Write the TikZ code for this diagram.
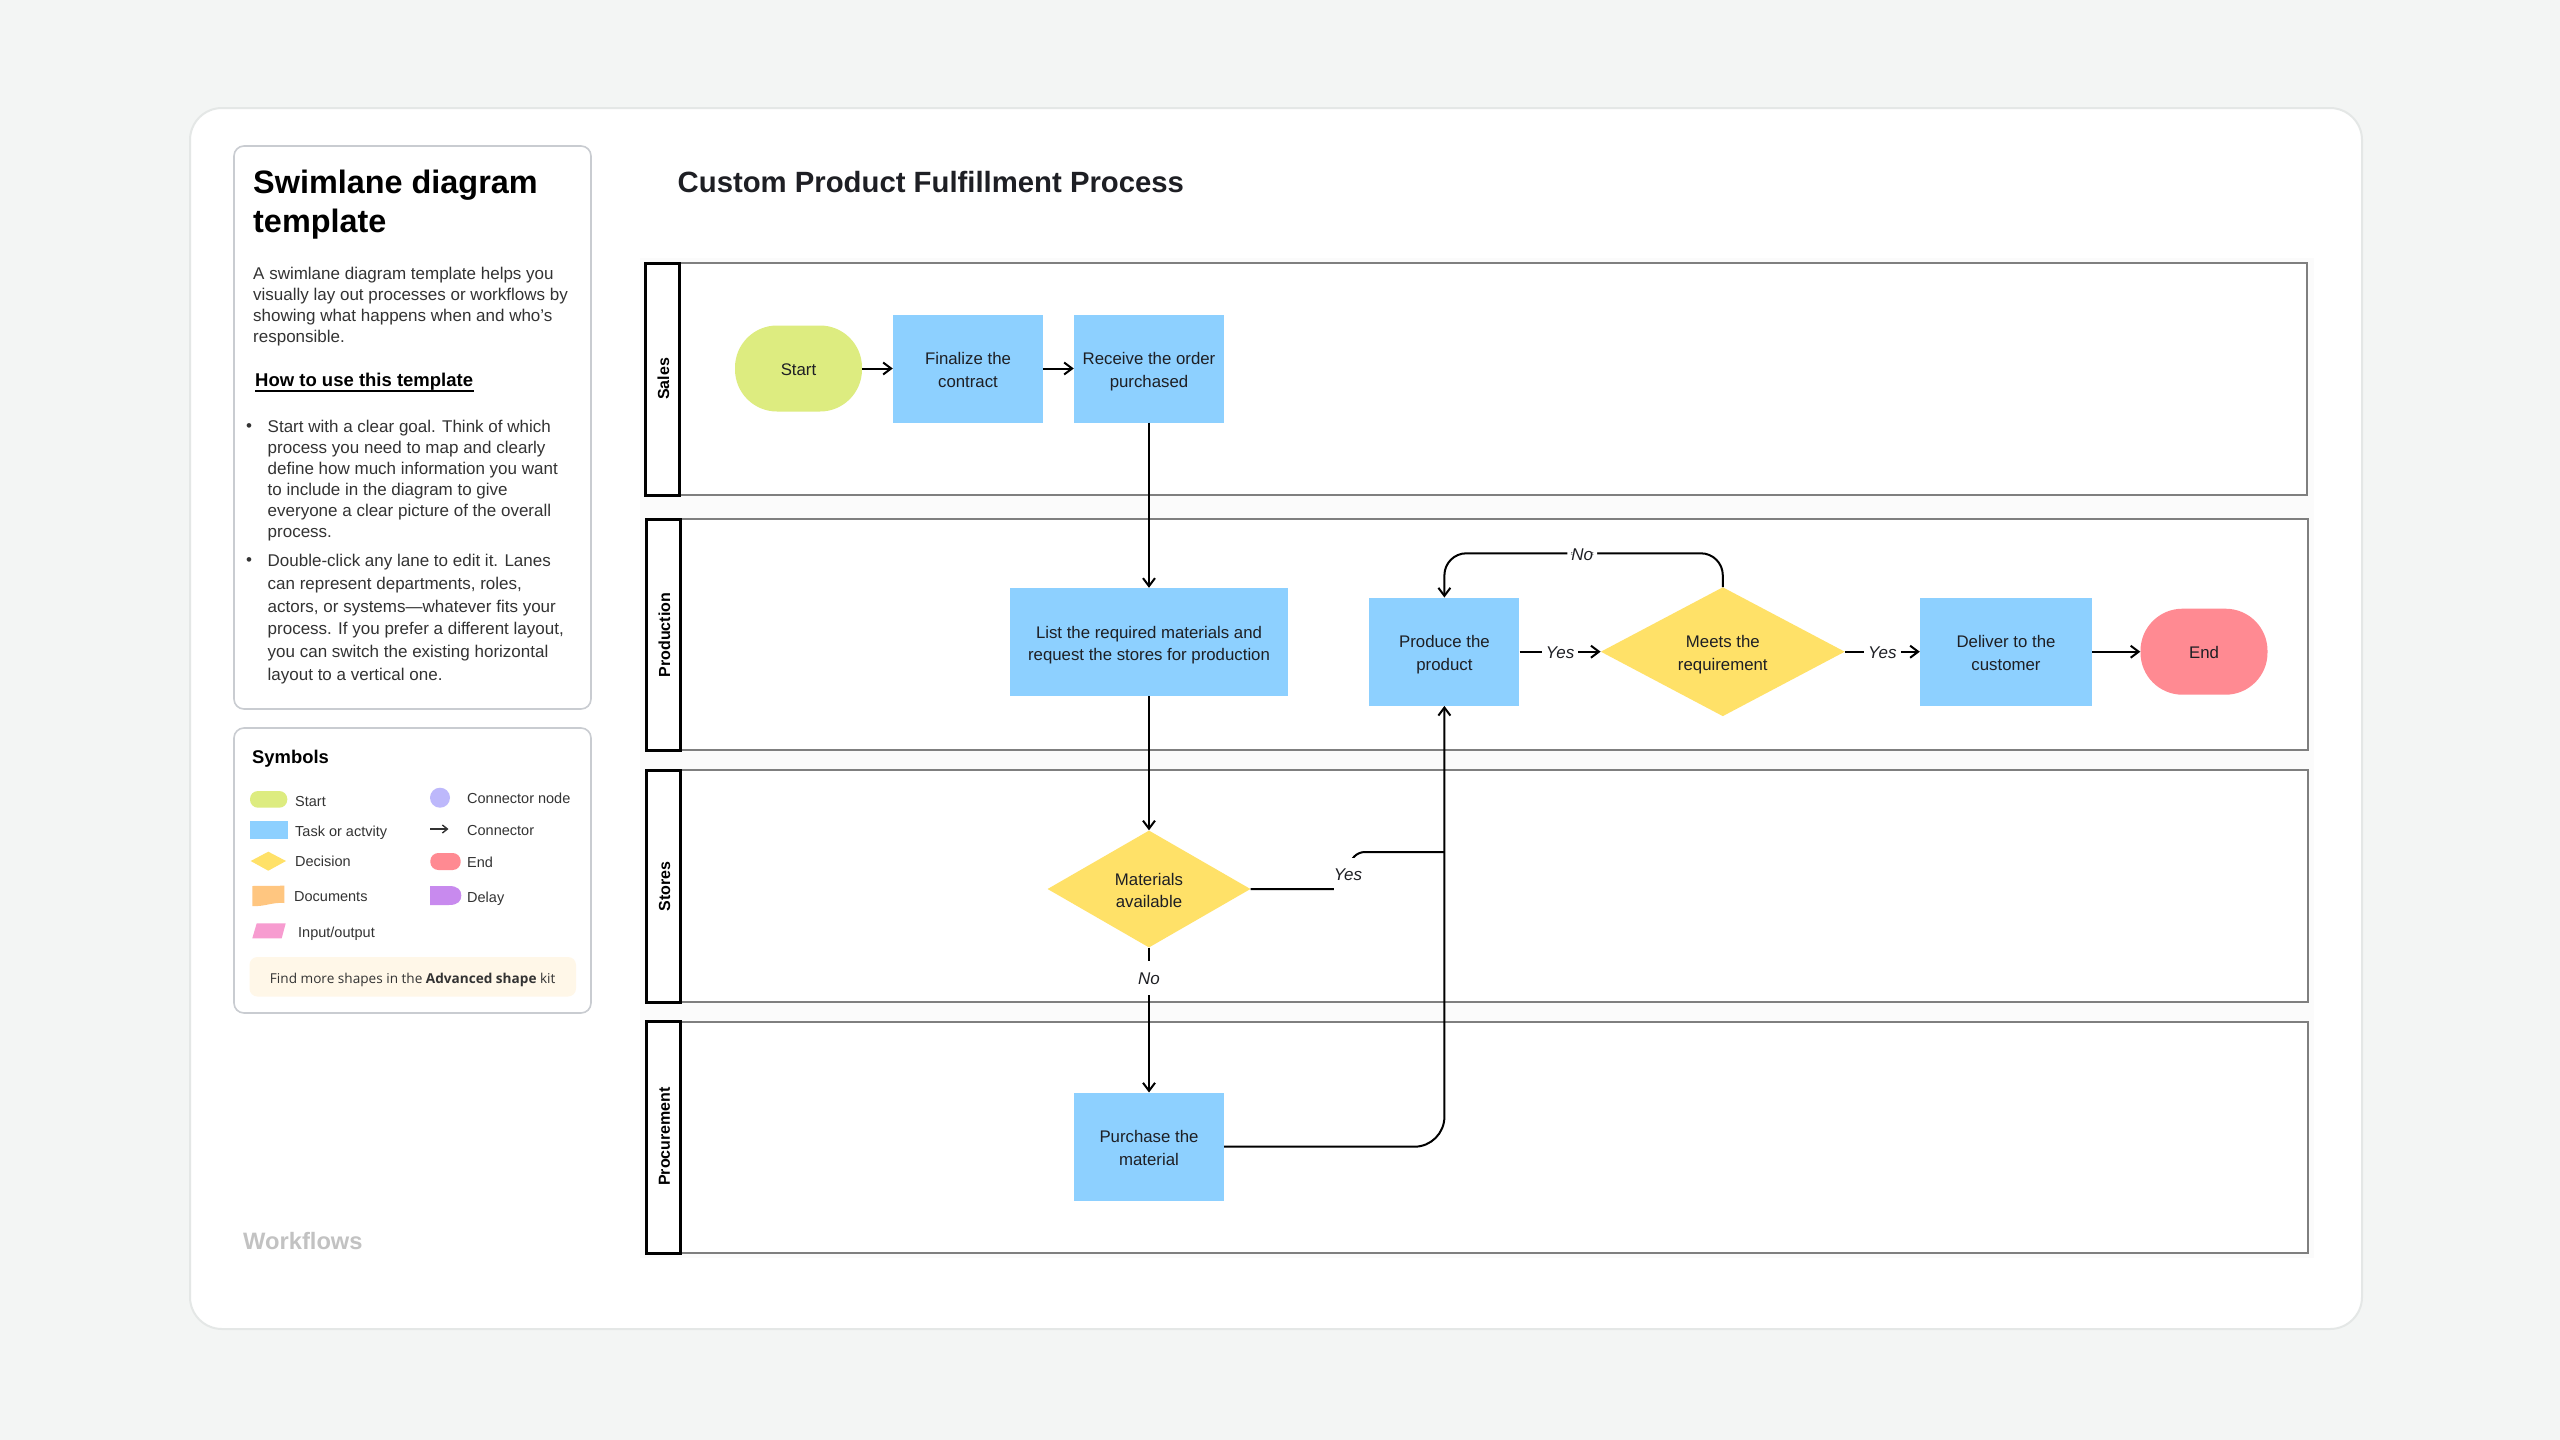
\documentclass[tikz,border=0pt]{standalone}
\usepackage{fontspec}
\setmainfont{Liberation Sans}
\newfontfamily\bannerfont{Open Sans}
\usetikzlibrary{shapes.geometric,arrows.meta,calc}
\definecolor{pagebg}{HTML}{F3F5F4}
\definecolor{cardedge}{HTML}{E4E7E6}
\definecolor{boxedge}{HTML}{C9CCD1}
\definecolor{laneedge}{HTML}{7F7F7F}
\definecolor{laneband}{HTML}{FBFBFB}
\definecolor{taskblue}{HTML}{8DD0FF}
\definecolor{decyellow}{HTML}{FFE168}
\definecolor{startgreen}{HTML}{DDEC80}
\definecolor{endred}{HTML}{FF8A92}
\definecolor{docorange}{HTML}{FFC680}
\definecolor{delaypurple}{HTML}{C88AEE}
\definecolor{iopink}{HTML}{F79CD0}
\definecolor{nodelilac}{HTML}{BDB8FB}
\definecolor{bannerbg}{HTML}{FFF7E8}
\definecolor{inktext}{HTML}{1E1F24}
\definecolor{graytext}{HTML}{333333}
\newcommand{\fs}[1]{\fontsize{#1}{#1}\selectfont}
\newcommand{\twolines}[2]{\raisebox{-3pt}[\height][\depth]{\fontsize{16.8}{22.6}\selectfont\begin{tabular}{@{}c@{}}#1\\#2\end{tabular}}}
\tikzset{
  x=1pt,y=-1pt,
  >={Straight Barb[length=8pt,width=12pt,line width=2pt]},
  conn/.style={draw=black,line width=2pt,->},
  plainconn/.style={draw=black,line width=2pt},
  shapetext/.style={align=center,text=inktext,font=\fontsize{16.8}{22}\selectfont,inner sep=0pt},
  oneline/.style={text height=16pt,text depth=2pt},
  task/.style={shapetext,fill=taskblue,minimum width=#1,minimum height=108pt},
  decision/.style={shapetext,fill=decyellow,diamond,aspect=1.9},
  lanebody/.style={draw=laneedge,line width=2pt,fill=white},
  laneheader/.style={draw=black,line width=3pt,fill=white},
  lanelabel/.style={rotate=90,font=\fs{16}\bfseries,text=black,inner sep=0pt},
  arrowlabel/.style={fill=white,font=\fs{17}\itshape,text=inktext,inner xsep=4pt,inner ysep=8pt,text height=16pt,text depth=2pt},
  panel/.style={draw=boxedge,line width=1.6pt,fill=white,rounded corners=10pt},
  leg/.style={font=\fs{14.5},text=graytext,anchor=west,inner sep=0pt,text height=11pt,text depth=1pt},
  intro/.style={font=\fs{17},text=graytext,anchor=west,inner sep=0pt,text height=14pt,text depth=1pt},
}
\begin{document}
\begin{tikzpicture}
\useasboundingbox (0,0) rectangle (2560,1440);
\fill[pagebg] (0,0) rectangle (2560,1440);
\draw[draw=cardedge,line width=2pt,fill=white,rounded corners=32pt] (190,108) rectangle (2362,1329);

% side panels
\draw[panel] (234,146) rectangle (591,709);
\draw[panel] (234,728) rectangle (591,1013);
\node[anchor=west,inner sep=0pt,font=\fs{32.4}\bfseries,text=black] (t1) at (253,185) {Swimlane diagram};
\node[anchor=west,inner sep=0pt,font=\fs{32.4}\bfseries,text=black] (t2) at (253,224) {template};
\node[intro] (p1) at (253,273) {A swimlane diagram template helps you};
\node[intro] (p2) at (253,294) {visually lay out processes or workflows by};
\node[intro] (p3) at (253,315) {showing what happens when and who's};
\node[intro] (p4) at (253,336) {responsible.};
\node[anchor=west,inner sep=0pt,font=\fs{18.5}\bfseries,text=black] (how) at (255,382) {How to use this template};
\draw[line width=1.6pt,black] (255,391) -- (474,391);
\node[intro] (b1dot) at (246,425) {•};
\node[intro] (b1a) at (267.5,426) {Start with a clear goal. Think of which};
\node[intro] (b1b) at (267.5,447) {process you need to map and clearly};
\node[intro] (b1c) at (267.5,468) {define how much information you want};
\node[intro] (b1d) at (267.5,489) {to include in the diagram to give};
\node[intro] (b1e) at (267.5,510) {everyone a clear picture of the overall};
\node[intro] (b1f) at (267.5,531) {process.};
\node[intro] (b2dot) at (246,559) {•};
\node[intro] (b2a) at (267.5,560) {Double-click any lane to edit it. Lanes};
\node[intro] (b2b) at (267.5,583) {can represent departments, roles,};
\node[intro] (b2c) at (267.5,606) {actors, or systems—whatever fits your};
\node[intro] (b2d) at (267.5,628) {process. If you prefer a different layout,};
\node[intro] (b2e) at (267.5,651) {you can switch the existing horizontal};
\node[intro] (b2f) at (267.5,674) {layout to a vertical one.};

% legend
\node[anchor=west,inner sep=0pt,font=\fs{18.4}\bfseries,text=black] (symtitle) at (252,758.5) {Symbols};
\fill[startgreen,rounded corners=8pt] (250,791) rectangle (287.3,807.7);
\node[leg] (lg1) at (295,801) {Start};
\fill[taskblue] (250,821.3) rectangle (287.7,838.7);
\node[leg] (lg2) at (295,831) {Task or actvity};
\fill[decyellow] (250.7,861) -- (268.3,851.7) -- (286,861) -- (268.3,870.7) -- cycle;
\node[leg] (lg3) at (295,861) {Decision};
\fill[docorange] (252.3,886) -- (284.3,885.7) -- (284.3,903) .. controls (272,902) and (264,907) .. (252.3,906) -- cycle;
\node[leg] (lg4) at (294,896) {Documents};
\fill[iopink] (256.7,923.3) -- (285.7,923.3) -- (281.7,938.3) -- (252.3,938.3) -- cycle;
\node[leg] (lg5) at (298,932) {Input/output};
\fill[nodelilac] (440,797.7) circle (10);
\node[leg] (lg6) at (467,798) {Connector node};
\coordinate (lga) at (430,829);
\coordinate (lgb) at (448.5,829);
\draw[graytext,line width=1.4pt,-{Straight Barb[length=5pt,width=8pt,line width=1.4pt]}] (lga) -- (lgb);
\node[leg] (lg7) at (467,830) {Connector};
\fill[endred,rounded corners=8pt] (430.3,853) rectangle (460.7,870);
\node[leg] (lg8) at (467,862) {End};
\fill[delaypurple] (430,886) -- (449,886) .. controls (458,886) and (461.3,890) .. (461.3,895.5) .. controls (461.3,901) and (458,905) .. (449,905) -- (430,905) -- cycle;
\node[leg] (lg9) at (467,897) {Delay};
\fill[bannerbg,rounded corners=8pt] (249.5,957) rectangle (576,996.5);
\node[inner sep=0pt,font=\bannerfont\fs{13.6},text=graytext] (banner) at (412.7,979.5) {Find more shapes in the \textbf{Advanced shape} kit};

\node[anchor=west,inner sep=0pt,font=\fs{29.3}\bfseries,text=inktext] (main) at (677.5,182) {Custom Product Fulfillment Process};
\node[anchor=west,inner sep=0pt,font=\fs{23.7}\bfseries,text=graytext!30] (wf) at (243,1241) {Workflows};

% lanes
\fill[laneband] (640,258) rectangle (2314,1258);
\draw[lanebody] (645,263) rectangle (2307,495);
\draw[lanebody] (646.5,519) rectangle (2308,750);
\draw[lanebody] (646.5,770) rectangle (2308,1002);
\draw[lanebody] (646.5,1021.5) rectangle (2308,1253);
\draw[laneheader] (645,263) rectangle (679,495);
\draw[laneheader] (646.5,519) rectangle (680.5,750);
\draw[laneheader] (646.5,770) rectangle (680.5,1002);
\draw[laneheader] (646.5,1021.5) rectangle (680.5,1253);
\node[lanelabel] (l1) at (663.5,379) {Sales};
\node[lanelabel] (l2) at (664.5,635) {Production};
\node[lanelabel] (l3) at (664.5,886.5) {Stores};
\node[lanelabel] (l4) at (664.5,1136.5) {Procurement};

% flow nodes
\node[shapetext,oneline,fill=startgreen,minimum width=127pt,minimum height=86pt,rounded corners=42pt] (start) at (798.5,368.5) {Start};
\node[task=150pt] (final) at (968,368.5) {\twolines{Finalize the}{contract}};
\node[task=150pt] (receive) at (1149,368.5) {\twolines{Receive the order}{purchased}};
\node[task=278pt] (list) at (1149,642) {\twolines{List the required materials and}{request the stores for production}};
\node[task=150pt] (produce) at (1444.4,651.7) {\twolines{Produce the}{product}};
\node[decision,minimum width=244pt,minimum height=129pt] (meets) at (1722.8,651.7) {\twolines{Meets the}{requirement}};
\node[task=172pt] (deliver) at (2006,651.7) {\twolines{Deliver to the}{customer}};
\node[shapetext,oneline,fill=endred,minimum width=127pt,minimum height=86pt,rounded corners=42pt] (endn) at (2204,651.7) {End};
\node[decision,minimum width=203pt,minimum height=117pt] (mat) at (1149,889) {\twolines{Materials}{available}};
\node[task=150pt] (purchase) at (1149,1146.7) {\twolines{Purchase the}{material}};

\coordinate (noY) at (1600,553.3);
\coordinate (bendA) at (1350,889);
\coordinate (bendB) at (1350,852);
\coordinate (joinY) at (1400,852);

% connectors
\draw[conn] (start.east) -- (final.west);
\draw[conn] (final.east) -- (receive.west);
\draw[conn] (receive.south) -- (list.north);
\draw[conn] (list.south) -- (mat.north);
\draw[conn] (mat.south) -- node[arrowlabel,pos=.209]{No} (purchase.north);
\draw[conn] (produce.east) -- node[arrowlabel]{Yes} (meets.west);
\draw[conn] (meets.east) -- node[arrowlabel]{Yes} (deliver.west);
\draw[conn] (deliver.east) -- (endn.west);
\draw[conn,rounded corners=22pt] (meets.north) -- (meets.north |- noY) -- node[arrowlabel,inner ysep=0pt,pos=.505]{No} (produce.north |- noY) -- (produce.north);
\draw[plainconn,-,rounded corners=15pt] (mat.east) -- (bendA) -- (bendB) -- (produce.south |- joinY);
\node[fill=white,inner sep=0pt,minimum width=26pt,minimum height=34pt,font=\fs{17}\itshape,text=inktext] (yesmat) at (1348,875) {Yes};
\draw[conn,rounded corners=30pt] (purchase.east) -- (produce.south |- purchase.east) -- (produce.south);
\end{tikzpicture}
\end{document}
